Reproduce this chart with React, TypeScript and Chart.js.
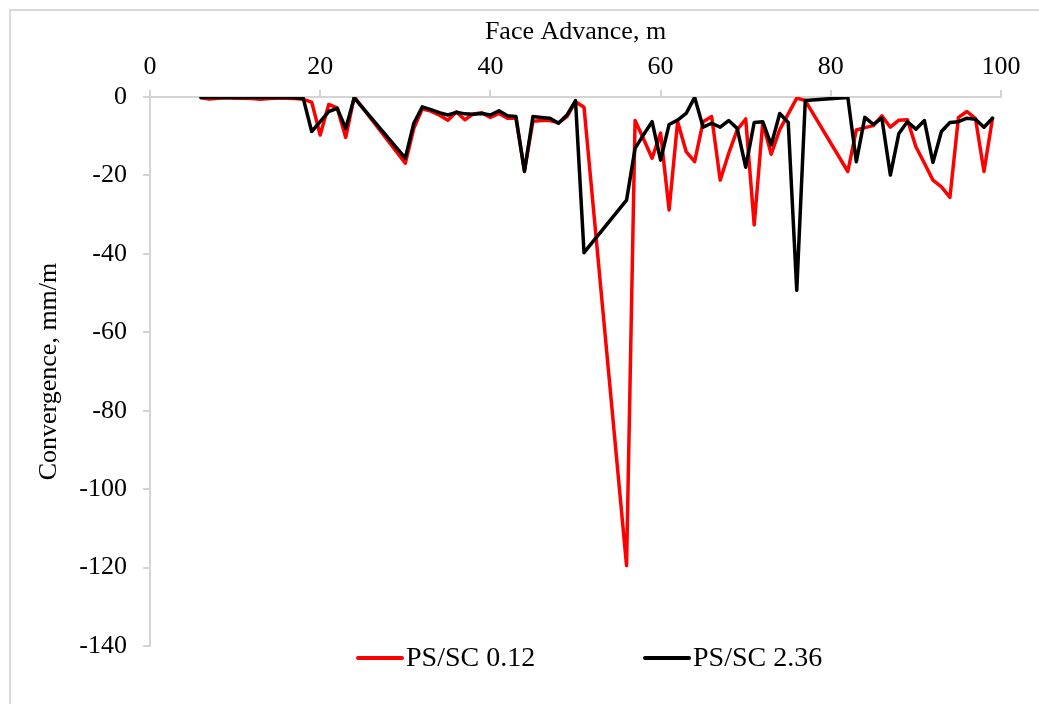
import { useEffect, useRef } from "react";
import { Chart, registerables } from "chart.js";

Chart.register(...registerables);

// Face advance positions (m) where convergence was recorded
const faceAdvance = [
  6, 7, 8, 9, 10, 11, 12, 13, 14, 15, 16, 17, 18, 19, 20, 21, 22, 23, 24,
  30, 31, 32, 33, 34, 35, 36, 37, 38, 39, 40, 41, 42, 43, 44, 45, 46, 47, 48, 49, 50, 51,
  56, 57, 58, 59, 60, 61, 62, 63, 64, 65, 66, 67, 68, 69, 70, 71, 72, 73, 74, 75, 76, 77,
  82, 83, 84, 85, 86, 87, 88, 89, 90, 91, 92, 93, 94, 95, 96, 97, 98, 99,
];

// Convergence (mm/m), PS/SC 0.12
const convergenceLow = [
  -0.2, -0.5, -0.3, -0.2, -0.3, -0.3, -0.4, -0.6, -0.4, -0.3, -0.3, -0.4, -0.6, -1.3, -9.7, -1.9, -2.8, -10.3, 0,
  -16.9, -8.0, -3.0, -3.6, -4.6, -5.9, -3.8, -5.8, -4.3, -4.0, -5.2, -4.2, -5.4, -5.4, -18.7, -6.2, -6.0, -6.0, -6.6, -5.0, -1.2, -2.6,
  -119.5, -6.0, -10.7, -15.6, -9.2, -28.8, -6.3, -13.9, -16.5, -6.3, -5.0, -21.2, -14.4, -8.4, -5.6, -32.6, -6.6, -14.6, -8.3, -4.3, -0.3, -0.9,
  -19.0, -8.4, -7.8, -7.3, -4.8, -7.7, -5.9, -5.8, -12.7, -16.9, -21.2, -22.9, -25.6, -5.2, -3.7, -5.5, -19.0, -5.4,
];

// Convergence (mm/m), PS/SC 2.36
const convergenceHigh = [
  -0.1, -0.1, -0.1, -0.1, -0.1, -0.1, -0.1, -0.1, -0.1, -0.1, -0.1, -0.2, -0.3, -8.8, -6.3, -3.7, -2.9, -8.0, -0.2,
  -15.6, -6.7, -2.5, -3.2, -4.0, -4.6, -3.9, -4.3, -4.4, -4.2, -4.6, -3.5, -4.8, -5.0, -19.0, -5.0, -5.2, -5.4, -6.7, -4.6, -0.9, -39.7,
  -26.3, -13.1, -9.6, -6.3, -16.1, -7.0, -5.9, -4.2, -0.1, -7.7, -6.7, -7.7, -6.0, -8.0, -17.9, -6.5, -6.3, -12.2, -4.2, -6.5, -49.3, -0.9,
  -0.1, -16.5, -5.2, -7.0, -5.4, -19.9, -9.3, -6.3, -8.2, -6.0, -16.7, -8.8, -6.5, -6.3, -5.4, -5.7, -7.7, -5.4,
];

const seriesLabels = ["PS/SC 0.12", "PS/SC 2.36"];
const seriesColors = ["#ff0000", "#000000"];
const xTickValues = [0, 20, 40, 60, 80, 100];
const yTickValues = [0, -20, -40, -60, -80, -100, -120, -140];

const FONT = "'Liberation Serif', 'Times New Roman', serif";
const AXIS_GREY = "#d4d4d4";

// Light frame around the whole figure
const framePlugin = {
  id: "frame",
  beforeDraw(chart: any) {
    const { ctx } = chart;
    ctx.save();
    ctx.fillStyle = "#ffffff";
    ctx.fillRect(0, 0, chart.width, chart.height);
    ctx.strokeStyle = "#d9d9d9";
    ctx.lineWidth = 2;
    ctx.strokeRect(10, 10, chart.width + 20, chart.height + 20);
    ctx.restore();
  },
};

// Legend row below the plot: a line sample followed by the series name
const legendRowPlugin = {
  id: "legendRow",
  afterDraw(chart: any) {
    const { ctx } = chart;
    const starts = [358, 645];
    const y = 658;
    ctx.save();
    ctx.font = `28px ${FONT}`;
    ctx.textBaseline = "middle";
    ctx.textAlign = "left";
    chart.data.datasets.forEach((ds: any, i: number) => {
      const x0 = starts[i];
      ctx.strokeStyle = ds.borderColor;
      ctx.lineWidth = 4;
      ctx.lineCap = "round";
      ctx.beginPath();
      ctx.moveTo(x0, y);
      ctx.lineTo(x0 + 44, y);
      ctx.stroke();
      ctx.fillStyle = "#000000";
      ctx.fillText(ds.label, x0 + 48, y + 1);
    });
    ctx.restore();
  },
};

export default function App() {
  const canvasRef = useRef<HTMLCanvasElement | null>(null);

  useEffect(() => {
    const canvas = canvasRef.current;
    if (!canvas) return;

    const toPoints = (values: number[]) =>
      faceAdvance.map((x, i) => ({ x, y: values[i] }));

    const chart = new Chart(canvas, {
      type: "line",
      data: {
        datasets: [
          {
            label: seriesLabels[0],
            data: toPoints(convergenceLow),
            borderColor: seriesColors[0],
            backgroundColor: seriesColors[0],
            borderWidth: 3.5,
            pointRadius: 0,
            tension: 0,
            borderJoinStyle: "round",
            borderCapStyle: "round",
            order: 1,
          },
          {
            label: seriesLabels[1],
            data: toPoints(convergenceHigh),
            borderColor: seriesColors[1],
            backgroundColor: seriesColors[1],
            borderWidth: 3.5,
            pointRadius: 0,
            tension: 0,
            borderJoinStyle: "round",
            borderCapStyle: "round",
            order: 0,
          },
        ],
      },
      options: {
        responsive: false,
        animation: false,
        devicePixelRatio: 1,
        layout: { padding: { left: 10, top: 10, right: 38, bottom: 58 } },
        plugins: {
          legend: { display: false },
          tooltip: { enabled: false },
        },
        scales: {
          x: {
            type: "linear",
            position: "top",
            min: 0,
            max: 100,
            afterBuildTicks: (scale: any) => {
              scale.ticks = xTickValues.map((value) => ({ value }));
            },
            afterFit: (scale: any) => {
              scale.height = 87;
            },
            grid: {
              drawOnChartArea: false,
              drawTicks: true,
              tickLength: 7,
              color: AXIS_GREY,
              lineWidth: 2,
            },
            border: { display: true, color: AXIS_GREY, width: 2 },
            ticks: {
              padding: 7,
              maxRotation: 0,
              color: "#000000",
              font: { family: FONT, size: 26 },
            },
            title: {
              display: true,
              text: "Face Advance, m",
              color: "#000000",
              font: { family: FONT, size: 26 },
              padding: { top: 7, bottom: 0 },
            },
          },
          y: {
            type: "linear",
            position: "left",
            min: -140,
            max: 0,
            afterBuildTicks: (scale: any) => {
              scale.ticks = yTickValues.map((value) => ({ value }));
            },
            afterFit: (scale: any) => {
              scale.width = 140;
            },
            grid: {
              drawOnChartArea: false,
              drawTicks: true,
              tickLength: 7,
              color: AXIS_GREY,
              lineWidth: 2,
            },
            border: { display: true, color: AXIS_GREY, width: 2 },
            ticks: {
              padding: 16,
              color: "#000000",
              font: { family: FONT, size: 26 },
            },
            title: {
              display: true,
              text: "Convergence, mm/m",
              color: "#000000",
              font: { family: FONT, size: 26 },
              padding: { top: 24, bottom: 0 },
            },
          },
        },
      },
      plugins: [framePlugin, legendRowPlugin],
    });

    return () => chart.destroy();
  }, []);

  return (
    <div
      style={{
        position: "fixed",
        left: 0,
        top: 0,
        width: 1039,
        height: 704,
        background: "#ffffff",
      }}
    >
      <canvas ref={canvasRef} width={1039} height={704} />
    </div>
  );
}
